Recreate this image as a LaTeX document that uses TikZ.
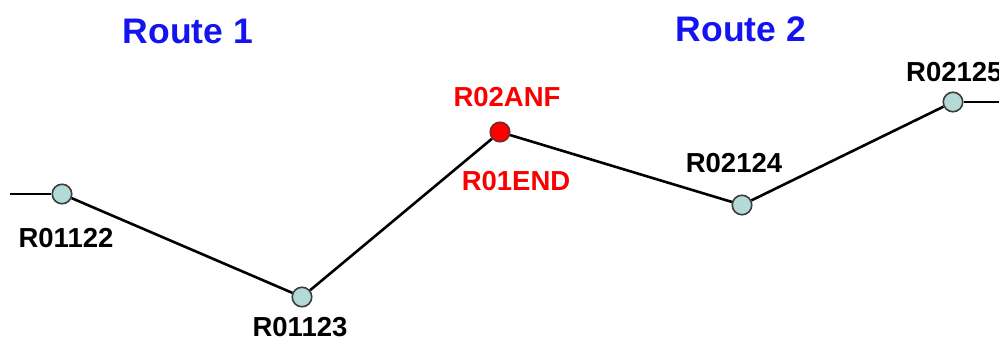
\documentclass[tikz,border=0pt]{standalone}
\usepackage{fontspec}
\setmainfont{Liberation Sans}
\definecolor{nodefill}{RGB}{180,218,216}
\definecolor{nodeline}{RGB}{60,60,60}
\definecolor{routeblue}{RGB}{20,20,240}
\definecolor{redlab}{RGB}{250,0,0}
\tikzset{
  station/.style={circle, fill=nodefill, draw=nodeline, line width=1.6pt, minimum size=19.5pt, inner sep=0pt},
  redstation/.style={circle, fill=red, draw=nodeline!70!red, line width=1.6pt, minimum size=19.5pt, inner sep=0pt},
  lab/.style={inner sep=0pt, font=\bfseries\fontsize{27.5}{30}\selectfont, text=black},
  redlabel/.style={lab, text=redlab},
  routelab/.style={inner sep=0pt, font=\bfseries\fontsize{35.5}{40}\selectfont, text=routeblue},
  track/.style={line width=2.6pt, black}
}
\begin{document}
\begin{tikzpicture}[x=1pt,y=1pt]
\useasboundingbox (0,0) rectangle (999,338);
\clip (0,0) rectangle (999,338);
\coordinate (s) at (10,144);
\coordinate (e) at (1005,236);
\node[station] (n1) at (62,144) {};
\node[station] (n2) at (302,41) {};
\node[redstation] (n3) at (500,206) {};
\node[station] (n4) at (742,133) {};
\node[station] (n5) at (953,236) {};
\draw[track] (s) -- (n1);
\draw[track] (n1) -- (n2);
\draw[track] (n2) -- (n3);
\draw[track] (n3) -- (n4);
\draw[track] (n4) -- (n5);
\draw[track] (n5) -- (e);
\node[lab] (l1) at (66,100) {R01122};
\node[lab] (l2) at (300,11) {R01123};
\node[redlabel] (l3) at (507,241) {R02ANF};
\node[redlabel] (l3b) at (516,157) {R01END};
\node[lab] (l4) at (734,175) {R02124};
\node[lab, anchor=west] (l5) at (906,266) {R02125};
\node[routelab] (r1) at (188,307) {Route 1};
\node[routelab] (r2) at (741,309) {Route 2};
\end{tikzpicture}
\end{document}
